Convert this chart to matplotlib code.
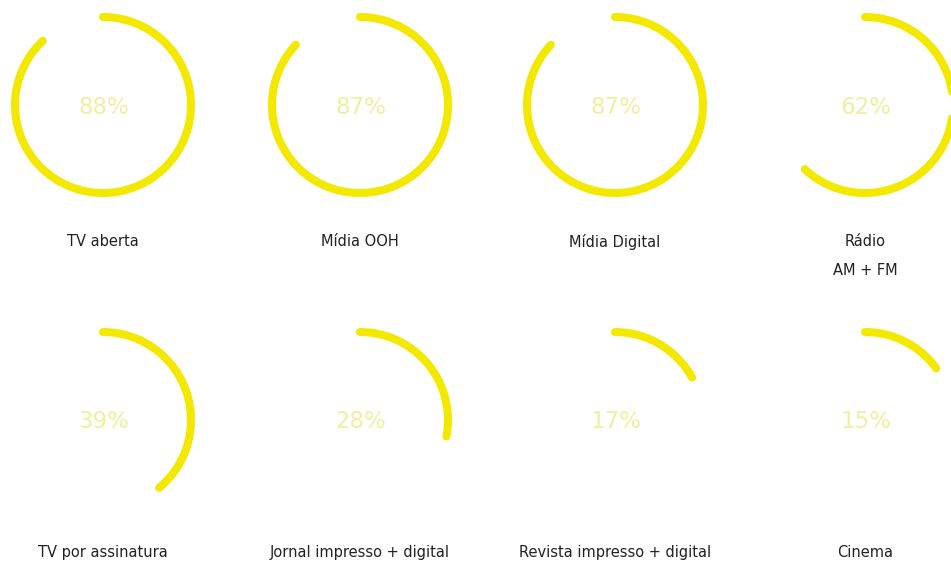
import numpy as np
import matplotlib.pyplot as plt

categories = ["TV aberta", "Mídia OOH", "Mídia Digital", "Rádio\nAM + FM",
              "TV por assinatura", "Jornal impresso + digital",
              "Revista impresso + digital", "Cinema"]
shares = [88, 87, 87, 62, 39, 28, 17, 15]

ARC_COLOR = "#f3e800"
PCT_COLOR = "#f2eea0"
W, H = 951, 562
COL_X = [103, 360, 615, 865]
ROW_Y = [105, 420]
LABEL_Y = [234, 545]
R = 88

fig = plt.figure(figsize=(W / 100, H / 100), dpi=100)
ax = fig.add_axes([0, 0, 1, 1])
ax.set_xlim(0, W)
ax.set_ylim(H, 0)
ax.set_aspect("equal")
ax.axis("off")

for i, (name, pct) in enumerate(zip(categories, shares)):
    cx, cy = COL_X[i % 4], ROW_Y[i // 4]
    # arc runs clockwise from 12 o'clock, length proportional to the share
    t = np.linspace(0, 2 * np.pi * pct / 100, 300)
    ax.plot(cx + R * np.sin(t), cy - R * np.cos(t), color=ARC_COLOR,
            lw=5.8, solid_capstyle="round")
    ax.text(cx + 1, cy + 2, f"{pct}%", ha="center", va="center", fontsize=16.5,
            color=PCT_COLOR, family="DejaVu Sans")
    ax.text(cx, LABEL_Y[i // 4], name, ha="center", va="top", fontsize=10.5,
            color="#222222", family="DejaVu Sans", linespacing=2.2)

fig.savefig("out.png", dpi=100, facecolor="white")
